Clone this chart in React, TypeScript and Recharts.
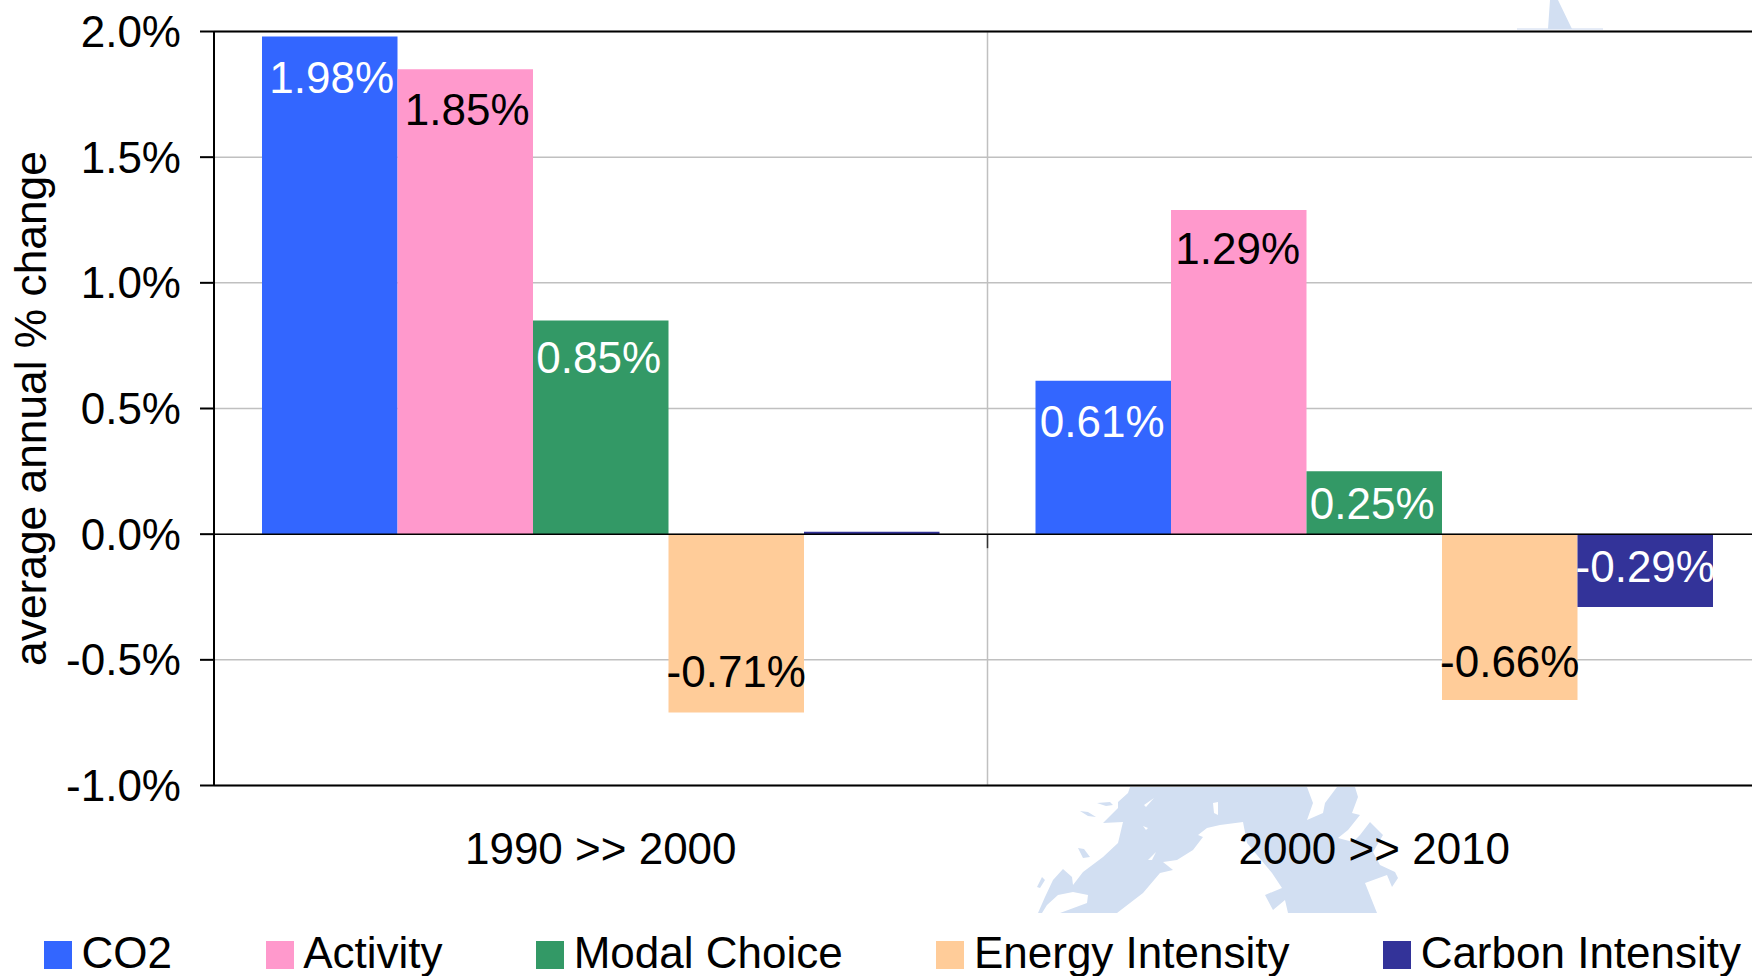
import React from "react";
import {
  Bar,
  BarChart,
  CartesianGrid,
  LabelList,
  Legend,
  ReferenceLine,
  XAxis,
  YAxis,
  usePlotArea,
} from "recharts";

const FONT = '"Liberation Sans", Arial, sans-serif';
const FONT_SIZE = 44;

const periods = ["1990 >> 2000", "2000 >> 2010"];
const co2 = [1.98, 0.61];
const activity = [1.85, 1.29];
const modalChoice = [0.85, 0.25];
const energyIntensity = [-0.71, -0.66];
const carbonIntensity = [0.01, -0.29];
const yTicks = [-1, -0.5, 0, 0.5, 1, 1.5, 2];

const series = [
  { name: "CO2", values: co2, color: "#3366ff", labelColor: "#fff" },
  { name: "Activity", values: activity, color: "#ff99cc", labelColor: "#000" },
  { name: "Modal Choice", values: modalChoice, color: "#339966", labelColor: "#fff" },
  { name: "Energy Intensity", values: energyIntensity, color: "#ffcc99", labelColor: "#000" },
  { name: "Carbon Intensity", values: carbonIntensity, color: "#333399", labelColor: "#fff" },
];

const chartData = periods.map((period, i) => {
  const row: Record<string, string | number> = { period };
  series.forEach((s) => {
    row[s.name] = s.values[i];
  });
  return row;
});

// hand placed label nudges [dx, dy], the labels don't sit evenly in their bars
const labelNudge: Record<string, [number, number]> = {
  "1.98": [2, 0],
  "1.85": [2, -1],
  "1.29": [-1, -2.5],
  "0.85": [-2, -4.5],
  "0.61": [-1, 0],
  "0.25": [-2, -9],
  "-0.71": [0, 1],
  "-0.66": [0, 4],
  "-0.29": [0, 2],
};

// map of the British Isles that sits behind the plot
const MapBackdrop = () => (
  <svg
    width={1752}
    height={976}
    style={{ position: "absolute", left: 0, top: 0 }}
  >
    <rect x={1517} y={28} width={86} height={2} fill="#e6ecf7" />
    <path
      fill="#d2dff2"
      fillRule="evenodd"
      d="M1130 787 L1307 787 L1313 803 L1307 820 L1323 813 L1325 803 L1337 787 L1355 787 L1358 797 L1352 813 L1360 815 L1348 830 L1338 838 L1353 842 L1360 835 L1370 822 L1383 835 L1373 852 L1380 865 L1395 872 L1398 878 L1392 887 L1387 875 L1365 883 L1377 913 L1288 913 L1285 900 L1273 910 L1265 895 L1282 888 L1272 873 L1247 843 L1243 822 L1220 825 L1207 828 L1198 835 L1203 837 L1193 850 L1177 860 L1163 862 L1173 870 L1160 873 L1143 893 L1130 903 L1117 913 L1060 913 L1087 903 L1088 895 L1073 892 L1058 895 L1047 905 L1042 913 L1038 913 L1045 897 L1053 880 L1063 869 L1072 877 L1073 885 L1083 872 L1103 857 L1118 843 L1123 822 L1103 823 L1118 808 L1118 802 L1128 793 Z
         M1143 826 L1148 828 L1146 830 Z M1148 860 L1156 852 L1152 860 Z M1213 803 L1218 802 L1218 815 L1214 813 Z M1144 805 L1154 798 L1146 807 Z
         M1080 811 L1088 812 L1096 817 L1088 816 Z M1078 848 L1084 849 L1090 857 L1083 858 Z M1037 887 L1042 877 L1045 880 L1040 888 Z M1097 803 L1110 802 L1113 805 L1106 806 Z
         M1550 0 L1558 0 L1572 29 L1548 29 Z"
    />
  </svg>
);

const barLabel = (fill: string) => (props: any) => {
  const { x, y, width, height, value } = props;
  // the near-zero carbon bar carries no label
  if (Math.abs(value) < 0.05) return null;
  const top = Math.min(y, y + height);
  const bottom = Math.max(y, y + height);
  const baseline = value >= 0 ? top + 56.5 : bottom - 27;
  const [dx, dy] = labelNudge[value.toFixed(2)] ?? [0, 0];
  return (
    <text
      x={x + width / 2 + dx}
      y={baseline + dy}
      textAnchor="middle"
      fill={fill}
      fontFamily={FONT}
      fontSize={FONT_SIZE}
    >
      {value.toFixed(2)}%
    </text>
  );
};

// short tick on the zero line, between the two periods
const ZeroTick = () => {
  const plot = usePlotArea();
  if (!plot) return null;
  const x = plot.x + plot.width / 2;
  const y = plot.y + (plot.height * 2) / 3;
  return <line x1={x} x2={x} y1={y} y2={y + 14} stroke="#333" strokeWidth={1.5} />;
};

const legendContent = () => (
  <div
    style={{
      display: "flex",
      alignItems: "center",
      height: 50,
      paddingLeft: 44,
      paddingTop: 2,
      fontFamily: FONT,
      fontSize: FONT_SIZE,
      color: "#000",
      whiteSpace: "nowrap",
    }}
  >
    {series.map((s) => (
      <div
        key={s.name}
        style={{ display: "flex", alignItems: "center", marginRight: 93.7 }}
      >
        <span
          style={{
            width: 28,
            height: 28,
            marginRight: 9.5,
            marginTop: 3,
            background: s.color,
            flex: "none",
          }}
        />
        {s.name}
      </div>
    ))}
  </div>
);

export default function App() {
  return (
    <div
      style={{
        position: "absolute",
        left: 0,
        top: 0,
        width: 1752,
        height: 976,
        overflow: "hidden",
        background: "#fff",
      }}
    >
      <MapBackdrop />
      <div style={{ position: "absolute", left: 0, top: 0 }}>
        <BarChart
          width={1800}
          height={976}
          data={chartData}
          margin={{ top: 31.5, right: 39, bottom: 0, left: 0 }}
          barGap={0}
          barSize={135.5}
          style={{ fontFamily: FONT }}
        >
          <CartesianGrid
            stroke="#c0c0c0"
            strokeWidth={1.5}
            fill="#fff"
            fillOpacity={1}
            verticalCoordinatesGenerator={({ offset }: any) => [
              offset.left + offset.width / 2,
            ]}
          />
          <XAxis
            dataKey="period"
            height={140.5}
            tickLine={false}
            tickMargin={41.5}
            stroke="#000"
            strokeWidth={2}
            tick={{ fill: "#000", fontSize: FONT_SIZE, fontFamily: FONT }}
            interval={0}
          />
          <YAxis
            width={214}
            domain={[-1, 2]}
            ticks={yTicks}
            interval={0}
            tickSize={14}
            tickMargin={19}
            tickFormatter={(v: number) => `${v.toFixed(1)}%`}
            stroke="#000"
            strokeWidth={2}
            tick={{ fill: "#000", fontSize: FONT_SIZE, fontFamily: FONT }}
            label={{
              value: "average annual % change",
              angle: -90,
              position: "insideLeft",
              offset: 30,
              style: {
                textAnchor: "middle",
                fill: "#000",
                fontSize: 44.3,
                fontFamily: FONT,
              },
            }}
          />
          {series.map((s) => (
            <Bar
              key={s.name}
              dataKey={s.name}
              fill={s.color}
              isAnimationActive={false}
            >
              <LabelList dataKey={s.name} content={barLabel(s.labelColor)} />
            </Bar>
          ))}
          <ReferenceLine y={0} stroke="#000" strokeWidth={1.5} />
          <ReferenceLine y={2} stroke="#000" strokeWidth={2} />
          <ZeroTick />
          <Legend
            height={50}
            content={legendContent}
            wrapperStyle={{ left: 0, width: 1752 }}
          />
        </BarChart>
      </div>
    </div>
  );
}
